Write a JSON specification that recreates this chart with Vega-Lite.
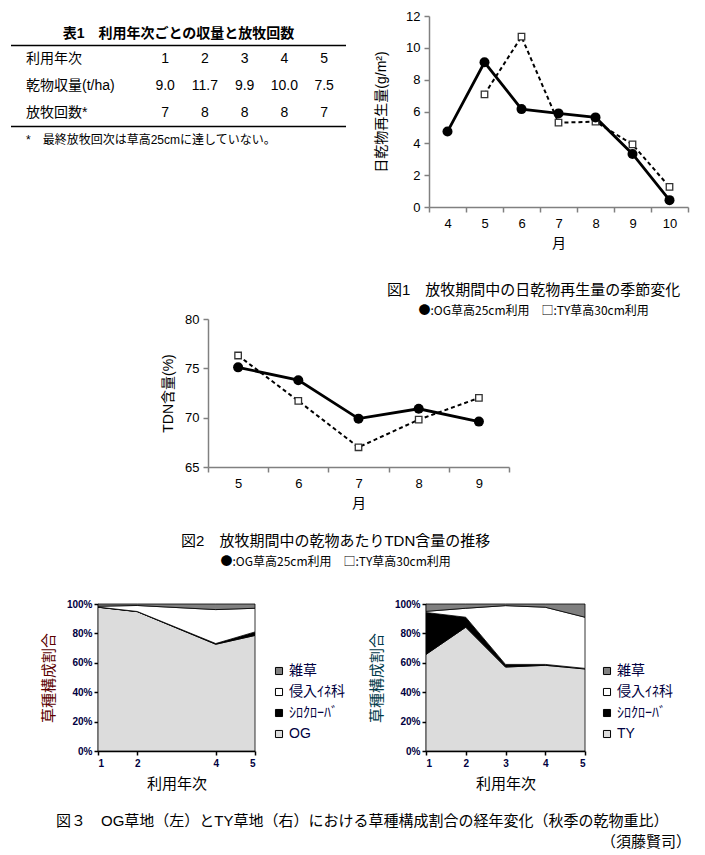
{
  "$schema": "https://vega.github.io/schema/vega-lite/v6.json",
  "padding": {"left": 10, "top": 10, "right": 5, "bottom": 5},
  "background": "white",
  "config": {
    "font": "Liberation Sans, Noto Sans CJK JP",
    "view": {"stroke": null},
    "axis": {"grid": false, "labelColor": "black", "titleColor": "black", "titleFontWeight": "normal", "labelFont": "Liberation Sans, Noto Sans CJK JP", "titleFont": "Liberation Sans, Noto Sans CJK JP"},
    "title": {"font": "Liberation Sans, Noto Sans CJK JP", "subtitleFont": "Noto Sans CJK JP", "color": "black", "subtitleColor": "black", "fontWeight": "normal"},
    "text": {"font": "Liberation Sans, Noto Sans CJK JP", "color": "black"},
    "legend": {"labelFont": "Liberation Sans, Noto Sans CJK JP", "titleFont": "Liberation Sans, Noto Sans CJK JP"}
  },
  "datasets": {
    "table": [
      {"row": "title", "col": "title", "text": "表1　利用年次ごとの収量と放牧回数"},
      {"row": "head", "col": "label", "text": "利用年次"},
      {"row": "head", "col": "1", "text": "1"},
      {"row": "head", "col": "2", "text": "2"},
      {"row": "head", "col": "3", "text": "3"},
      {"row": "head", "col": "4", "text": "4"},
      {"row": "head", "col": "5", "text": "5"},
      {"row": "yield", "col": "label", "text": "乾物収量(t/ha)"},
      {"row": "yield", "col": "1", "text": "9.0"},
      {"row": "yield", "col": "2", "text": "11.7"},
      {"row": "yield", "col": "3", "text": "9.9"},
      {"row": "yield", "col": "4", "text": "10.0"},
      {"row": "yield", "col": "5", "text": "7.5"},
      {"row": "count", "col": "label", "text": "放牧回数*"},
      {"row": "count", "col": "1", "text": "7"},
      {"row": "count", "col": "2", "text": "8"},
      {"row": "count", "col": "3", "text": "8"},
      {"row": "count", "col": "4", "text": "8"},
      {"row": "count", "col": "5", "text": "7"},
      {"row": "note", "col": "label", "text": "*　最終放牧回次は草高25cmに達していない。"}
    ],
    "fig1": [
      {"month": 4, "series": "OG", "value": 4.74},
      {"month": 5, "series": "OG", "value": 9.09},
      {"month": 6, "series": "OG", "value": 6.15},
      {"month": 7, "series": "OG", "value": 5.88},
      {"month": 8, "series": "OG", "value": 5.63},
      {"month": 9, "series": "OG", "value": 3.33},
      {"month": 10, "series": "OG", "value": 0.43},
      {"month": 5, "series": "TY", "value": 7.08},
      {"month": 6, "series": "TY", "value": 10.7},
      {"month": 7, "series": "TY", "value": 5.3},
      {"month": 8, "series": "TY", "value": 5.36},
      {"month": 9, "series": "TY", "value": 3.93},
      {"month": 10, "series": "TY", "value": 1.26}
    ],
    "fig2": [
      {"month": 5, "series": "OG", "value": 75.1},
      {"month": 6, "series": "OG", "value": 73.8},
      {"month": 7, "series": "OG", "value": 69.9},
      {"month": 8, "series": "OG", "value": 70.9},
      {"month": 9, "series": "OG", "value": 69.6},
      {"month": 5, "series": "TY", "value": 76.3},
      {"month": 6, "series": "TY", "value": 71.7},
      {"month": 7, "series": "TY", "value": 67.0},
      {"month": 8, "series": "TY", "value": 69.8},
      {"month": 9, "series": "TY", "value": 72.0}
    ],
    "og": [
      {"year": 1, "species": "OG", "value": 97.8},
      {"year": 1, "species": "シロクローバ", "value": 0.1},
      {"year": 1, "species": "侵入ｲﾈ科", "value": 0.6},
      {"year": 1, "species": "雑草", "value": 1.5},
      {"year": 2, "species": "OG", "value": 94.8},
      {"year": 2, "species": "シロクローバ", "value": 0.1},
      {"year": 2, "species": "侵入ｲﾈ科", "value": 4.1},
      {"year": 2, "species": "雑草", "value": 1.0},
      {"year": 4, "species": "OG", "value": 72.6},
      {"year": 4, "species": "シロクローバ", "value": 0.5},
      {"year": 4, "species": "侵入ｲﾈ科", "value": 23.1},
      {"year": 4, "species": "雑草", "value": 3.8},
      {"year": 5, "species": "OG", "value": 78.6},
      {"year": 5, "species": "シロクローバ", "value": 2.4},
      {"year": 5, "species": "侵入ｲﾈ科", "value": 16.1},
      {"year": 5, "species": "雑草", "value": 2.9}
    ],
    "ty": [
      {"year": 1, "species": "TY", "value": 65.7},
      {"year": 1, "species": "シロクローバ", "value": 28.5},
      {"year": 1, "species": "侵入ｲﾈ科", "value": 0.8},
      {"year": 1, "species": "雑草", "value": 5.0},
      {"year": 2, "species": "TY", "value": 84.2},
      {"year": 2, "species": "シロクローバ", "value": 6.8},
      {"year": 2, "species": "侵入ｲﾈ科", "value": 6.1},
      {"year": 2, "species": "雑草", "value": 2.9},
      {"year": 3, "species": "TY", "value": 57.1},
      {"year": 3, "species": "シロクローバ", "value": 1.8},
      {"year": 3, "species": "侵入ｲﾈ科", "value": 40.0},
      {"year": 3, "species": "雑草", "value": 1.1},
      {"year": 4, "species": "TY", "value": 58.3},
      {"year": 4, "species": "シロクローバ", "value": 0.6},
      {"year": 4, "species": "侵入ｲﾈ科", "value": 38.9},
      {"year": 4, "species": "雑草", "value": 2.2},
      {"year": 5, "species": "TY", "value": 55.8},
      {"year": 5, "species": "シロクローバ", "value": 0.4},
      {"year": 5, "species": "侵入ｲﾈ科", "value": 34.8},
      {"year": 5, "species": "雑草", "value": 9.0}
    ],
    "blank": [{"t": ""}]
  },
  "title": {"text": "（須藤賢司）", "orient": "bottom", "anchor": "start", "frame": "group", "offset": 6, "dx": 590, "fontSize": 15},
  "bounds": "flush",
  "spacing": 303,
  "resolve": {"scale": {"fill": "independent"}},
  "vconcat": [
    {
      "bounds": "flush",
      "spacing": 83,
      "hconcat": [
        {
          "width": 335,
          "height": 140,
          "data": {"name": "table"},
          "layer": [
            {
              "transform": [{"filter": "datum.row == 'title'"}],
              "mark": {"type": "text", "fontSize": 14, "fontWeight": "bold", "dy": 2},
              "encoding": {
                "y": {"field": "row", "type": "nominal", "scale": {"type": "band", "domain": ["title", "head", "yield", "count", "note"], "paddingInner": 0, "paddingOuter": 0.1}, "axis": null},
                "text": {"field": "text"}
              }
            },
            {
              "transform": [{"filter": "datum.col == 'label' && datum.row != 'note'"}],
              "mark": {"type": "text", "fontSize": 14, "align": "left"},
              "encoding": {
                "x": {"field": "col", "type": "nominal", "bandPosition": 0, "scale": {"type": "band", "domain": ["label", "s1", "s2", "1", "2", "3", "4", "5"], "paddingInner": 0, "paddingOuter": 0.2138, "align": 0.882}, "axis": null},
                "y": {"field": "row", "type": "nominal", "scale": {"type": "band", "domain": ["title", "head", "yield", "count", "note"], "paddingInner": 0, "paddingOuter": 0.1}, "axis": null},
                "text": {"field": "text"}
              }
            },
            {
              "transform": [{"filter": "datum.row == 'note'"}],
              "mark": {"type": "text", "fontSize": 12, "align": "left"},
              "encoding": {
                "x": {"field": "col", "type": "nominal", "bandPosition": 0, "scale": {"type": "band", "domain": ["label", "s1", "s2", "1", "2", "3", "4", "5"], "paddingInner": 0, "paddingOuter": 0.2138, "align": 0.882}, "axis": null},
                "y": {"field": "row", "type": "nominal", "scale": {"type": "band", "domain": ["title", "head", "yield", "count", "note"], "paddingInner": 0, "paddingOuter": 0.1}, "axis": null},
                "text": {"field": "text"}
              }
            },
            {
              "transform": [{"filter": "datum.col != 'label' && datum.row != 'title'"}],
              "mark": {"type": "text", "fontSize": 14, "align": "center"},
              "encoding": {
                "x": {"field": "col", "type": "nominal", "bandPosition": 0.5, "scale": {"type": "band", "domain": ["label", "s1", "s2", "1", "2", "3", "4", "5"], "paddingInner": 0, "paddingOuter": 0.2138, "align": 0.882}, "axis": null},
                "y": {"field": "row", "type": "nominal", "scale": {"type": "band", "domain": ["title", "head", "yield", "count", "note"], "paddingInner": 0, "paddingOuter": 0.1}, "axis": null},
                "text": {"field": "text"}
              }
            },
            {
              "data": {"values": [{"row": "head"}, {"row": "note"}]},
              "mark": {"type": "rule", "color": "black", "strokeWidth": 1.5},
              "encoding": {
                "y": {"field": "row", "type": "nominal", "bandPosition": 0, "scale": {"type": "band", "domain": ["title", "head", "yield", "count", "note"], "paddingInner": 0, "paddingOuter": 0.1}, "axis": null}
              }
            }
          ]
        },
        {
          "width": 259,
          "height": 191,
          "data": {"name": "fig1"},
          "title": {"text": "図1　放牧期間中の日乾物再生量の季節変化", "subtitle": "●:OG草高25cm利用　□:TY草高30cm利用", "orient": "bottom", "anchor": "middle", "frame": "bounds", "offset": 33, "dx": 2, "fontSize": 15, "subtitleFontSize": 12, "subtitlePadding": 8},
          "encoding": {
            "x": {"field": "month", "type": "ordinal", "bandPosition": 0.5, "scale": {"type": "band", "domain": [4, 5, 6, 7, 8, 9, 10], "paddingInner": 0, "paddingOuter": 0}, "axis": {"title": "月", "labelAngle": 0, "tickBand": "extent", "domainColor": "#808080", "tickColor": "#808080", "domainWidth": 1.5, "tickWidth": 1.5, "tickSize": 5, "labelFontSize": 13, "titleFontSize": 14, "labelPadding": 5, "titlePadding": 6}},
            "y": {"field": "value", "type": "quantitative", "scale": {"domain": [0, 12], "nice": false}, "axis": {"title": "日乾物再生量(g/m²)", "values": [0, 2, 4, 6, 8, 10, 12], "domainColor": "#808080", "tickColor": "#808080", "domainWidth": 1.5, "tickWidth": 1.5, "tickSize": 5, "labelFontSize": 13, "titleFontSize": 14, "labelPadding": 4, "titlePadding": 17}}
          },
          "layer": [
            {"transform": [{"filter": "datum.series == 'TY'"}], "mark": {"type": "line", "color": "black", "strokeWidth": 2, "strokeDash": [4, 3]}},
            {"transform": [{"filter": "datum.series == 'OG'"}], "mark": {"type": "line", "color": "black", "strokeWidth": 2.8}},
            {"transform": [{"filter": "datum.series == 'TY'"}], "mark": {"type": "point", "shape": "square", "size": 42, "filled": true, "fill": "white", "stroke": "#333333", "strokeWidth": 1.3, "opacity": 1}},
            {"transform": [{"filter": "datum.series == 'OG'"}], "mark": {"type": "point", "shape": "circle", "size": 100, "filled": true, "color": "black", "opacity": 1}}
          ]
        }
      ]
    },
    {
      "bounds": "flush",
      "spacing": 285,
      "resolve": {"scale": {"fill": "independent"}},
      "vconcat": [
        {
          "bounds": "flush",
          "spacing": 100,
          "hconcat": [
            {"width": 97, "height": 10, "data": {"name": "blank"}, "mark": {"type": "text"}, "encoding": {"text": {"field": "t"}}},
            {
              "width": 301,
              "height": 148,
              "data": {"name": "fig2"},
              "title": {"text": "図2　放牧期間中の乾物あたりTDN含量の推移", "subtitle": "●:OG草高25cm利用　□:TY草高30cm利用", "orient": "bottom", "anchor": "middle", "frame": "bounds", "offset": 24, "fontSize": 15, "subtitleFontSize": 12, "subtitlePadding": 8},
              "encoding": {
                "x": {"field": "month", "type": "ordinal", "bandPosition": 0.5, "scale": {"type": "band", "domain": [5, 6, 7, 8, 9], "paddingInner": 0, "paddingOuter": 0}, "axis": {"title": "月", "labelAngle": 0, "tickBand": "extent", "domainColor": "#808080", "tickColor": "#808080", "domainWidth": 1.5, "tickWidth": 1.5, "tickSize": 5, "labelFontSize": 13, "titleFontSize": 14, "labelPadding": 5, "titlePadding": 6}},
                "y": {"field": "value", "type": "quantitative", "scale": {"domain": [65, 80], "nice": false, "zero": false}, "axis": {"title": "TDN含量(%)", "values": [65, 70, 75, 80], "domainColor": "#808080", "tickColor": "#808080", "domainWidth": 1.5, "tickWidth": 1.5, "tickSize": 5, "labelFontSize": 13, "titleFontSize": 14, "labelPadding": 4, "titlePadding": 9}}
              },
              "layer": [
                {"transform": [{"filter": "datum.series == 'TY'"}], "mark": {"type": "line", "color": "black", "strokeWidth": 2, "strokeDash": [4, 3]}},
                {"transform": [{"filter": "datum.series == 'OG'"}], "mark": {"type": "line", "color": "black", "strokeWidth": 2.8}},
                {"transform": [{"filter": "datum.series == 'TY'"}], "mark": {"type": "point", "shape": "square", "size": 42, "filled": true, "fill": "white", "stroke": "#333333", "strokeWidth": 1.3, "opacity": 1}},
                {"transform": [{"filter": "datum.series == 'OG'"}], "mark": {"type": "point", "shape": "circle", "size": 100, "filled": true, "color": "black", "opacity": 1}}
              ]
            }
          ]
        },
        {
          "bounds": "flush",
          "spacing": 83,
          "resolve": {"scale": {"fill": "independent"}},
          "hconcat": [
            {"width": 4, "height": 10, "data": {"name": "blank"}, "mark": {"type": "text"}, "encoding": {"text": {"field": "t"}}},
            {
              "width": 157,
              "height": 147,
              "data": {"name": "og"},
              "title": {"text": "図３　OG草地（左）とTY草地（右）における草種構成割合の経年変化（秋季の乾物重比）", "orient": "bottom", "anchor": "start", "frame": "group", "offset": 23, "dx": -42, "fontSize": 15},
              "mark": {"type": "area", "stroke": "black", "strokeWidth": 0.8, "opacity": 1},
              "encoding": {
                "x": {"field": "year", "type": "quantitative", "scale": {"domain": [1, 5], "nice": false, "zero": false}, "axis": {"title": "利用年次", "values": [1, 2, 4, 5], "format": "d", "labelFontSize": 10, "labelFontWeight": "bold", "labelColor": "#000040", "domainColor": "black", "tickColor": "black", "domainWidth": 1.5, "tickWidth": 1.5, "tickSize": 4, "labelPadding": 3, "titleFontSize": 15, "titlePadding": 8}},
                "y": {"field": "value", "type": "quantitative", "stack": "normalize", "axis": {"title": "草種構成割合", "titleColor": "#5c0000", "format": ".0%", "values": [0, 0.2, 0.4, 0.6, 0.8, 1], "labelFontSize": 10, "labelFontWeight": "bold", "labelColor": "#000040", "domainColor": "black", "tickColor": "black", "domainWidth": 1.5, "tickWidth": 1.5, "tickSize": 4, "labelPadding": 2, "titleFontSize": 15, "titlePadding": 10}},
                "order": {"field": "species", "sort": "ascending"},
                "fill": {"field": "species", "type": "nominal", "scale": {"domain": ["雑草", "侵入ｲﾈ科", "シロクローバ", "OG"], "range": ["#808080", "#ffffff", "#000000", "#dcdcdc"]}, "legend": {"title": null, "orient": "none", "legendX": 174, "legendY": 60, "symbolType": "square", "symbolSize": 50, "symbolStrokeColor": "black", "symbolStrokeWidth": 1, "symbolOpacity": 1, "labelFontSize": 14, "labelColor": "#000040", "rowPadding": 7, "labelOffset": 3, "labelExpr": "datum.label == 'シロクローバ' ? 'ｼﾛｸﾛｰﾊﾞ' : datum.label"}}
              }
            },
            {"width": 5, "height": 10, "data": {"name": "blank"}, "mark": {"type": "text"}, "encoding": {"text": {"field": "t"}}},
            {
              "width": 159,
              "height": 147,
              "data": {"name": "ty"},
              "mark": {"type": "area", "stroke": "black", "strokeWidth": 0.8, "opacity": 1},
              "encoding": {
                "x": {"field": "year", "type": "quantitative", "scale": {"domain": [1, 5], "nice": false, "zero": false}, "axis": {"title": "利用年次", "values": [1, 2, 3, 4, 5], "format": "d", "labelFontSize": 10, "labelFontWeight": "bold", "labelColor": "#000040", "domainColor": "black", "tickColor": "black", "domainWidth": 1.5, "tickWidth": 1.5, "tickSize": 4, "labelPadding": 3, "titleFontSize": 15, "titlePadding": 8}},
                "y": {"field": "value", "type": "quantitative", "stack": "normalize", "axis": {"title": "草種構成割合", "titleColor": "#003a4a", "format": ".0%", "values": [0, 0.2, 0.4, 0.6, 0.8, 1], "labelFontSize": 10, "labelFontWeight": "bold", "labelColor": "#000040", "domainColor": "black", "tickColor": "black", "domainWidth": 1.5, "tickWidth": 1.5, "tickSize": 4, "labelPadding": 2, "titleFontSize": 15, "titlePadding": 10}},
                "order": {"field": "species", "sort": "ascending"},
                "fill": {"field": "species", "type": "nominal", "scale": {"domain": ["雑草", "侵入ｲﾈ科", "シロクローバ", "TY"], "range": ["#808080", "#ffffff", "#000000", "#dcdcdc"]}, "legend": {"title": null, "orient": "none", "legendX": 174, "legendY": 60, "symbolType": "square", "symbolSize": 50, "symbolStrokeColor": "black", "symbolStrokeWidth": 1, "symbolOpacity": 1, "labelFontSize": 14, "labelColor": "#000040", "rowPadding": 7, "labelOffset": 3, "labelExpr": "datum.label == 'シロクローバ' ? 'ｼﾛｸﾛｰﾊﾞ' : datum.label"}}
              }
            }
          ]
        }
      ]
    }
  ]
}
